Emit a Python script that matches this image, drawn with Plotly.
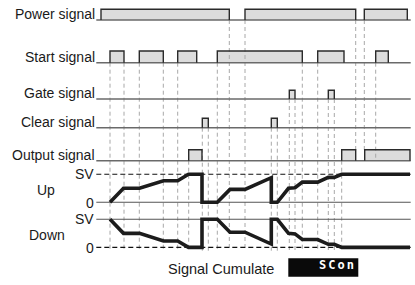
import plotly.graph_objects as go

# ---------------- data (time axis in chart units) ----------------
POWER_ON = [101.0, 245.0, 364.3]
POWER_OFF = [229.3, 355.7, 407.3]
START_ON = [110.0, 139.3, 177.7, 217.3, 317.7, 375.7]
START_OFF = [124.0, 163.3, 196.7, 302.3, 344.0, 388.3]
GATE_ON = [289.3, 328.3]
GATE_OFF = [295.0, 334.3]
CLEAR_ON = [202.3, 271.3]
CLEAR_OFF = [208.3, 277.3]
OUTPUT_ON = [188.7, 341.7, 364.7]
OUTPUT_OFF = [202.0, 355.7, 410.0]

# cumulative count as a fraction of SV
COUNT_T = [110.0, 123.5, 139.5, 163.5, 177.7, 188.5, 202.0, 202.0, 217.3, 230.0,
           245.0, 271.3, 271.3, 277.3, 288.5, 295.0, 302.3, 317.7, 328.3, 334.3,
           341.7, 410.0]
COUNT_FRAC = [0.0, 0.5, 0.5, 0.77, 0.77, 1.0, 1.0, 0.0, 0.0, 0.46,
              0.46, 0.88, 0.0, 0.0, 0.5, 0.52, 0.72, 0.72, 0.89, 0.89,
              1.0, 1.0]

# guide (dashed) lines: time, signal it starts from, where it ends
GUIDE_T = [110.0, 124.0, 139.3, 163.3, 177.7, 188.7, 202.3, 208.3, 217.3, 229.3,
           245.0, 271.3, 277.3, 289.3, 295.0, 302.3, 317.7, 328.3, 334.3, 341.7,
           355.7, 364.3, 375.7]
GUIDE_FROM = ["start", "start", "start", "start", "start", "output", "clear", "clear",
              "start", "power", "power", "clear", "clear", "gate", "gate", "start",
              "start", "gate", "gate", "output", "power", "power", "start"]
GUIDE_TO = ["end"] * 20 + ["output_top", "output_top", "output"]

SIGNAL_NAMES = ["power", "start", "gate", "clear", "output"]
SIGNAL_LABELS = ["Power signal", "Start signal", "Gate signal", "Clear signal", "Output signal"]
SIGNAL_ON = [POWER_ON, START_ON, GATE_ON, CLEAR_ON, OUTPUT_ON]
SIGNAL_OFF = [POWER_OFF, START_OFF, GATE_OFF, CLEAR_OFF, OUTPUT_OFF]

COUNTER_LABELS = ["Up", "Down"]
LEVEL_LABELS = ["SV", "0"]
BOTTOM_TEXT = "Signal Cumulate"
DISPLAY_TEXT = "SCon"

# ---------------- layout (pixel geometry) ----------------
W, H = 415, 285
ROWS = {  # baseline px, top px (from top of figure)
    "power": (20.0, 9.3),
    "start": (62.7, 51.0),
    "gate": (99.0, 90.3),
    "clear": (127.7, 118.3),
    "output": (160.7, 149.7),
    "up": (202.3, 174.3),
    "down": (247.4, 219.3),
}
ROW_ORDER = ["power", "start", "gate", "clear", "output", "up", "down"]
LINE_X0, LINE_X1 = 96.3, 410.7
GUIDE_BOTTOM = 251.0
PAD = 0.3
FONT = "Arial, Liberation Sans, sans-serif"
TXT = "#1a1a1a"


def paper(p):
    return 1 - p / H


fig = go.Figure()
layout = dict(
    width=W, height=H, margin=dict(l=0, r=0, t=0, b=0),
    paper_bgcolor="white", plot_bgcolor="rgba(0,0,0,0)", showlegend=False,
    xaxis=dict(range=[0, W], domain=[0, 1], visible=False, fixedrange=True),
)
axis_ref = {}
for i, name in enumerate(ROW_ORDER):
    base, top = ROWS[name]
    h = base - top
    key = "yaxis" if i == 0 else f"yaxis{i+1}"
    ref = "y" if i == 0 else f"y{i+1}"
    axis_ref[name] = ref
    layout[key] = dict(domain=[paper(base + PAD * h), paper(top - PAD * h)],
                       range=[-PAD, 1 + PAD], visible=False, fixedrange=True, anchor="x")

shapes = []
annotations = []

# box fills (lower layer, under guides)
for name, ons, offs in zip(SIGNAL_NAMES, SIGNAL_ON, SIGNAL_OFF):
    base, top = ROWS[name]
    for a, b in zip(ons, offs):
        shapes.append(dict(type="rect", xref="x", yref="paper", x0=a, x1=b,
                           y0=paper(base), y1=paper(top), fillcolor="#dcdcdc",
                           line=dict(width=0), layer="below"))

# guides
for t, f, to in zip(GUIDE_T, GUIDE_FROM, GUIDE_TO):
    y_top = ROWS[f][0]
    if to == "end":
        y_bot = GUIDE_BOTTOM
    elif to == "output_top":
        y_bot = ROWS["output"][1]
    else:
        y_bot = ROWS[to][0]
    shapes.append(dict(type="line", xref="x", yref="paper", x0=t, x1=t,
                       y0=paper(y_top), y1=paper(y_bot),
                       line=dict(color="#a8a8a8", width=1, dash="4px,3px"), layer="below"))

# signal rows
for name, label, ons, offs in zip(SIGNAL_NAMES, SIGNAL_LABELS, SIGNAL_ON, SIGNAL_OFF):
    ref = axis_ref[name]
    fig.add_trace(go.Scatter(x=[LINE_X0, LINE_X1], y=[0, 0], mode="lines", yaxis=ref,
                             line=dict(color="#6a6a6a", width=1.6), hoverinfo="skip"))
    xs, ys = [], []
    for a, b in zip(ons, offs):
        xs += [a, a, b, b, None]
        ys += [0, 1, 1, 0, None]
    fig.add_trace(go.Scatter(x=xs, y=ys, mode="lines", yaxis=ref,
                             line=dict(color="#2a2a2a", width=1.4), hoverinfo="skip"))
    annotations.append(dict(text=label, x=LINE_X0 + 0.5, y=0, xref="x", yref=ref,
                            xanchor="right", yanchor="bottom", yshift=-4, showarrow=False,
                            font=dict(family=FONT, size=14, color=TXT)))

# counter rows
for name, label in zip(["up", "down"], COUNTER_LABELS):
    ref = axis_ref[name]
    sv_dash = name == "up"
    fig.add_trace(go.Scatter(x=[LINE_X0, LINE_X1], y=[1, 1], mode="lines", yaxis=ref,
                             line=dict(color="#111" if sv_dash else "#555", width=1.1,
                                       dash="5px,3px" if sv_dash else "solid"),
                             hoverinfo="skip"))
    fig.add_trace(go.Scatter(x=[LINE_X0, LINE_X1], y=[0, 0], mode="lines", yaxis=ref,
                             line=dict(color="#555" if sv_dash else "#111", width=1.1,
                                       dash="solid" if sv_dash else "5px,3px"),
                             hoverinfo="skip"))
    vals = COUNT_FRAC if name == "up" else [1 - v for v in COUNT_FRAC]
    fig.add_trace(go.Scatter(x=COUNT_T, y=vals, mode="lines", yaxis=ref,
                             line=dict(color="#1c1c1c", width=3.6), hoverinfo="skip"))
    for lvl, txt in zip([1, 0], LEVEL_LABELS):
        annotations.append(dict(text=txt, x=LINE_X0, y=lvl, xref="x", yref=ref,
                                xanchor="right", yanchor="middle",
                                yshift=0 if lvl == 1 else -1, showarrow=False,
                                font=dict(family=FONT, size=14, color=TXT)))
    annotations.append(dict(text=label, x=45.5 if name == "up" else 47.2, y=0.43,
                            xref="x", yref=ref, xanchor="center", yanchor="middle",
                            showarrow=False, font=dict(family=FONT, size=14, color=TXT)))

# bottom caption and display
annotations.append(dict(text=BOTTOM_TEXT, x=220.5, y=paper(268.5), xref="x", yref="paper",
                        xanchor="center", yanchor="middle", showarrow=False,
                        font=dict(family=FONT, size=14.5, color=TXT)))
shapes.append(dict(type="rect", xref="x", yref="paper", x0=288.3, x1=358.3,
                   y0=paper(276.7), y1=paper(258.3), fillcolor="#0a0a0a",
                   line=dict(width=0), layer="above"))
annotations.append(dict(text='<span style="letter-spacing:2px">' + DISPLAY_TEXT + '</span>',
                        x=357.5, y=paper(264.5), xref="x", yref="paper",
                        xanchor="right", yanchor="middle", showarrow=False,
                        font=dict(family="DejaVu Sans Mono", size=12, color="white",
                                  weight="bold")))

layout["shapes"] = shapes
layout["annotations"] = annotations
fig.update_layout(**layout)
fig.write_html("out.html", config={"displayModeBar": False},
               post_script="document.body.style.margin='0px';document.body.style.overflow='hidden';")
